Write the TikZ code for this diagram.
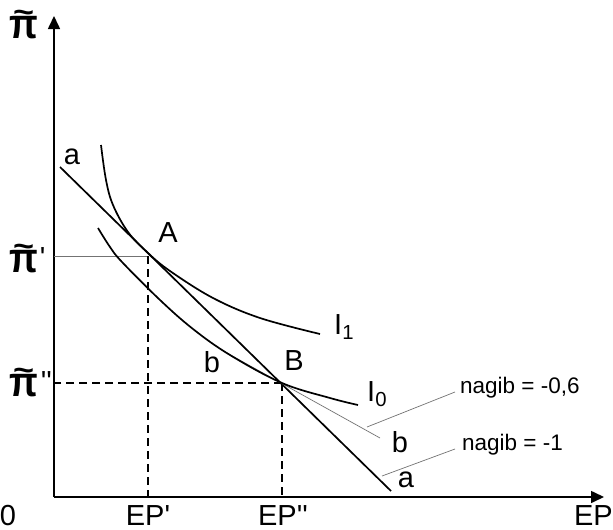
\documentclass[tikz,border=0pt]{standalone}
\usepackage{fontspec}
\setmainfont{Liberation Sans}
\usetikzlibrary{arrows.meta}
\newcommand{\pr}{\textquotesingle}
\newcommand{\tpi}{\leavevmode{\bfseries\fontsize{30}{30}\selectfont\setbox0\hbox{\scalebox{1.25}[1.4]{π}}\rlap{\hbox to \wd0{\hss\raisebox{0.52em}{\scalebox{1.2}[1.0]{\char"7E}}\hss}}\box0}}
\begin{document}
\begin{tikzpicture}[x=1pt,y=-1pt,
  lbl/.style={inner sep=0pt,font=\fontsize{29}{29}\selectfont},
  small/.style={inner sep=0pt,font=\fontsize{22.5}{22.5}\selectfont},
  axis/.style={line width=1.6pt,-{Triangle[length=13pt,width=12pt]}},
  curve/.style={line width=1.7pt},
  guide/.style={line width=1.3pt,dash pattern=on 8pt off 5pt},
  thin/.style={line width=0.7pt,black!55}]
\useasboundingbox (0,0) rectangle (613,530);
% axes
\coordinate (O) at (54,497);
\coordinate (Y) at (54,16);
\coordinate (X) at (604,497);
\draw[axis] (O) -- (Y);
\draw[axis] (O) -- (X);
% key points
\coordinate (A) at (148,256);
\coordinate (B) at (282,383);
% guides
\draw[thin] (A) -- (A -| O);
\draw[guide] (A) -- (A |- O);
\draw[guide] (B) -- (B -| O);
\draw[guide] (B) -- (B |- O);
% line a
\coordinate (a1) at (60,167);
\coordinate (a2) at (391,491);
\draw[curve] (a1) -- (a2);
% line b
\coordinate (b1) at (227,353);
\coordinate (b2) at (380,438);
\draw[thin] (b1) -- (b2);
% indifference curves
\draw[curve] plot[smooth,tension=0.6] coordinates {(101,145) (106,180) (113,205) (128,232) (148,253) (170,271) (213,298) (260,318) (320,334)};
\draw[curve] plot[smooth,tension=0.6] coordinates {(98,228) (110,247) (122,262) (160,300) (193,329) (230,355) (282,383) (330,398) (358,405)};
% leaders
\coordinate (l1a) at (367,427);
\coordinate (l1b) at (455,392);
\coordinate (l2a) at (382,476);
\coordinate (l2b) at (455,449);
\draw[thin] (l1a) -- (l1b);
\draw[thin] (l2a) -- (l2b);
% labels
\node[lbl,anchor=base west] (piy) at (9,38) {\tpi};
\node[lbl,anchor=base west] (pi1) at (9,272) {\tpi\kern2pt\raisebox{5pt}{\pr}};
\node[lbl,anchor=base west] (pi2) at (9,396) {\tpi\kern3pt\raisebox{5pt}{\pr\pr}};
\node[lbl,anchor=base] (zero) at (8,525) {0};
\node[lbl,anchor=base] (ep1) at (148,525) {EP\pr};
\node[lbl,anchor=base] (ep2) at (283,525) {EP\pr\pr};
\node[lbl,anchor=base east] (ep) at (613,525) {EP};
\node[lbl] (lA) at (168,233) {A};
\node[lbl] (lB) at (294,361) {B};
\node[lbl] (la1) at (72,157) {a};
\node[lbl] (la2) at (406,480) {a};
\node[lbl] (lb1) at (212,362) {b};
\node[lbl] (lb2) at (400,442) {b};
\node[lbl,anchor=west] (I1) at (334,327) {I\textsubscript{1}};
\node[lbl,anchor=west] (I0) at (367,394) {I\textsubscript{0}};
\node[small,anchor=west] (n6) at (460,388) {nagib = -0,6};
\node[small,anchor=west] (n1) at (462,445) {nagib = -1};
\end{tikzpicture}
\end{document}
